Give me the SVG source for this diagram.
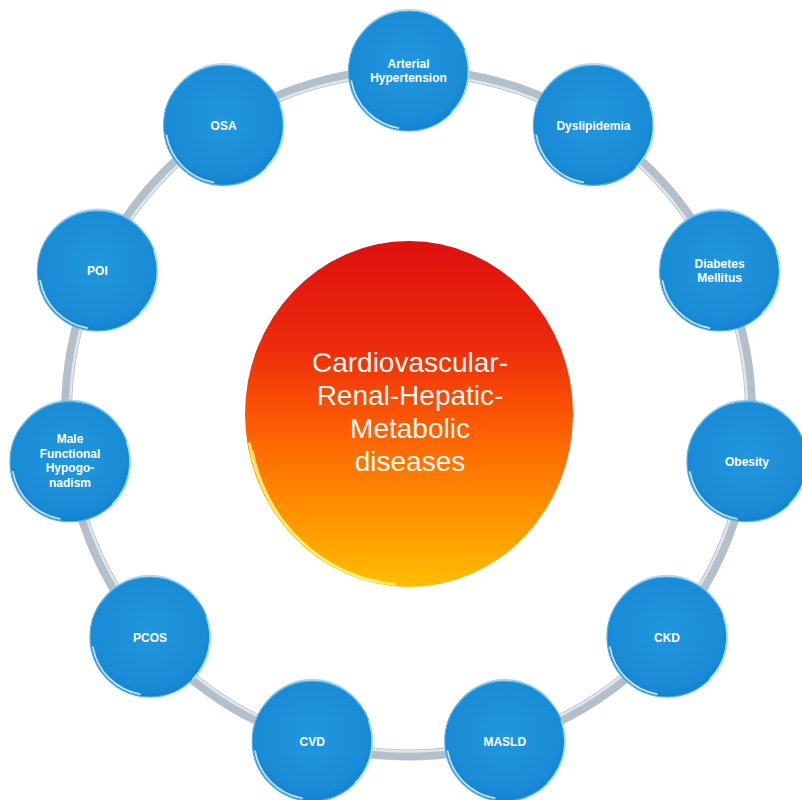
<svg xmlns="http://www.w3.org/2000/svg" xmlns:xlink="http://www.w3.org/1999/xlink" width="802" height="800" viewBox="0 0 802 800">
<defs>
<style>
.lbl{font-family:"Liberation Sans",Arial,sans-serif;font-weight:700;font-size:12px;fill:#ffffff;text-anchor:middle}
.ctr{font-family:"Liberation Sans",Arial,sans-serif;font-weight:400;font-size:28px;fill:#fff6ee;text-anchor:middle}
</style>
<radialGradient id="blueFill" cx="50%" cy="45%" r="55%">
<stop offset="0" stop-color="#2197dd"/>
<stop offset="0.85" stop-color="#1a8bd6"/>
<stop offset="1" stop-color="#1580cf"/>
</radialGradient>
<linearGradient id="hubFill" x1="0" y1="0" x2="0" y2="1">
<stop offset="0" stop-color="#de100f"/>
<stop offset="0.3" stop-color="#ec2a0c"/>
<stop offset="0.5" stop-color="#fb5503"/>
<stop offset="0.72" stop-color="#ff8500"/>
<stop offset="1" stop-color="#ffbd00"/>
</linearGradient>
<g id="bubble">
<circle r="60" fill="url(#blueFill)" stroke="#4fb3ea" stroke-width="1.2"/>
<path d="M -48.5 -35.3 A 58 58 0 0 1 48.5 -35.3" fill="none" stroke="#6cc3f0" stroke-width="1.6" stroke-opacity="0.6"/>
<path d="M -10.1 57.1 A 58 58 0 0 1 -57.1 10.1" fill="none" stroke="#ffffff" stroke-width="1.8" stroke-opacity="0.75" stroke-linecap="round"/>
<path d="M 56.4 -20.5 A 60 60 0 0 1 42.4 42.4" fill="none" stroke="#9fe6ff" stroke-width="1.6" stroke-opacity="0.9"/>
</g>
</defs>
<rect width="802" height="800" fill="#ffffff"/>
<g id="connectors">
<circle cx="408.5" cy="413" r="342" fill="none" stroke="#b4c0c9" stroke-width="11"/>
<circle cx="408.5" cy="413" r="338.5" fill="none" stroke="#e4eaee" stroke-width="2.5" stroke-opacity="0.9"/>
</g>
<g id="hub">
<ellipse cx="409" cy="414" rx="164" ry="173" fill="url(#hubFill)"/>
<path d="M 394.9 584.3 A 162 171 0 0 1 249.5 443.7" fill="none" stroke="#ffeb55" stroke-width="3" stroke-linecap="round"/>
<path d="M 380 583 A 160 169 0 0 1 253 450" fill="none" stroke="#fffbd2" stroke-width="1" stroke-opacity="0.9"/>
<text class="ctr" x="410" y="372">Cardiovascular-</text>
<text class="ctr" x="410" y="405">Renal-Hepatic-</text>
<text class="ctr" x="410" y="438">Metabolic</text>
<text class="ctr" x="410" y="471">diseases</text>
</g>
<g id="node-hypertension">
<use xlink:href="#bubble" x="408.5" y="71"/>
<text class="lbl" x="408.5" y="68">Arterial</text>
<text class="lbl" x="408.5" y="82">Hypertension</text>
</g>
<g id="node-dyslipidemia">
<use xlink:href="#bubble" x="593.4" y="125.3"/>
<text class="lbl" x="593.4" y="129.5">Dyslipidemia</text>
</g>
<g id="node-diabetes">
<use xlink:href="#bubble" x="719.6" y="270.9"/>
<text class="lbl" x="719.6" y="268">Diabetes</text>
<text class="lbl" x="719.6" y="282">Mellitus</text>
</g>
<g id="node-obesity">
<use xlink:href="#bubble" x="747" y="461.7"/>
<text class="lbl" x="747" y="466">Obesity</text>
</g>
<g id="node-ckd">
<use xlink:href="#bubble" x="667" y="637"/>
<text class="lbl" x="667" y="641.5">CKD</text>
</g>
<g id="node-masld">
<use xlink:href="#bubble" x="504.8" y="741.1"/>
<text class="lbl" x="504.8" y="745.5">MASLD</text>
</g>
<g id="node-cvd">
<use xlink:href="#bubble" x="312.2" y="741.1"/>
<text class="lbl" x="312.2" y="745.5">CVD</text>
</g>
<g id="node-pcos">
<use xlink:href="#bubble" x="150" y="637"/>
<text class="lbl" x="150" y="641.5">PCOS</text>
</g>
<g id="node-hypogonadism">
<use xlink:href="#bubble" x="70" y="461.7"/>
<text class="lbl" x="70" y="443">Male</text>
<text class="lbl" x="70" y="457.5">Functional</text>
<text class="lbl" x="70" y="472">Hypogo-</text>
<text class="lbl" x="70" y="486.5">nadism</text>
</g>
<g id="node-poi">
<use xlink:href="#bubble" x="97.4" y="270.9"/>
<text class="lbl" x="97.4" y="275">POI</text>
</g>
<g id="node-osa">
<use xlink:href="#bubble" x="223.6" y="125.3"/>
<text class="lbl" x="223.6" y="129.5">OSA</text>
</g>
</svg>
